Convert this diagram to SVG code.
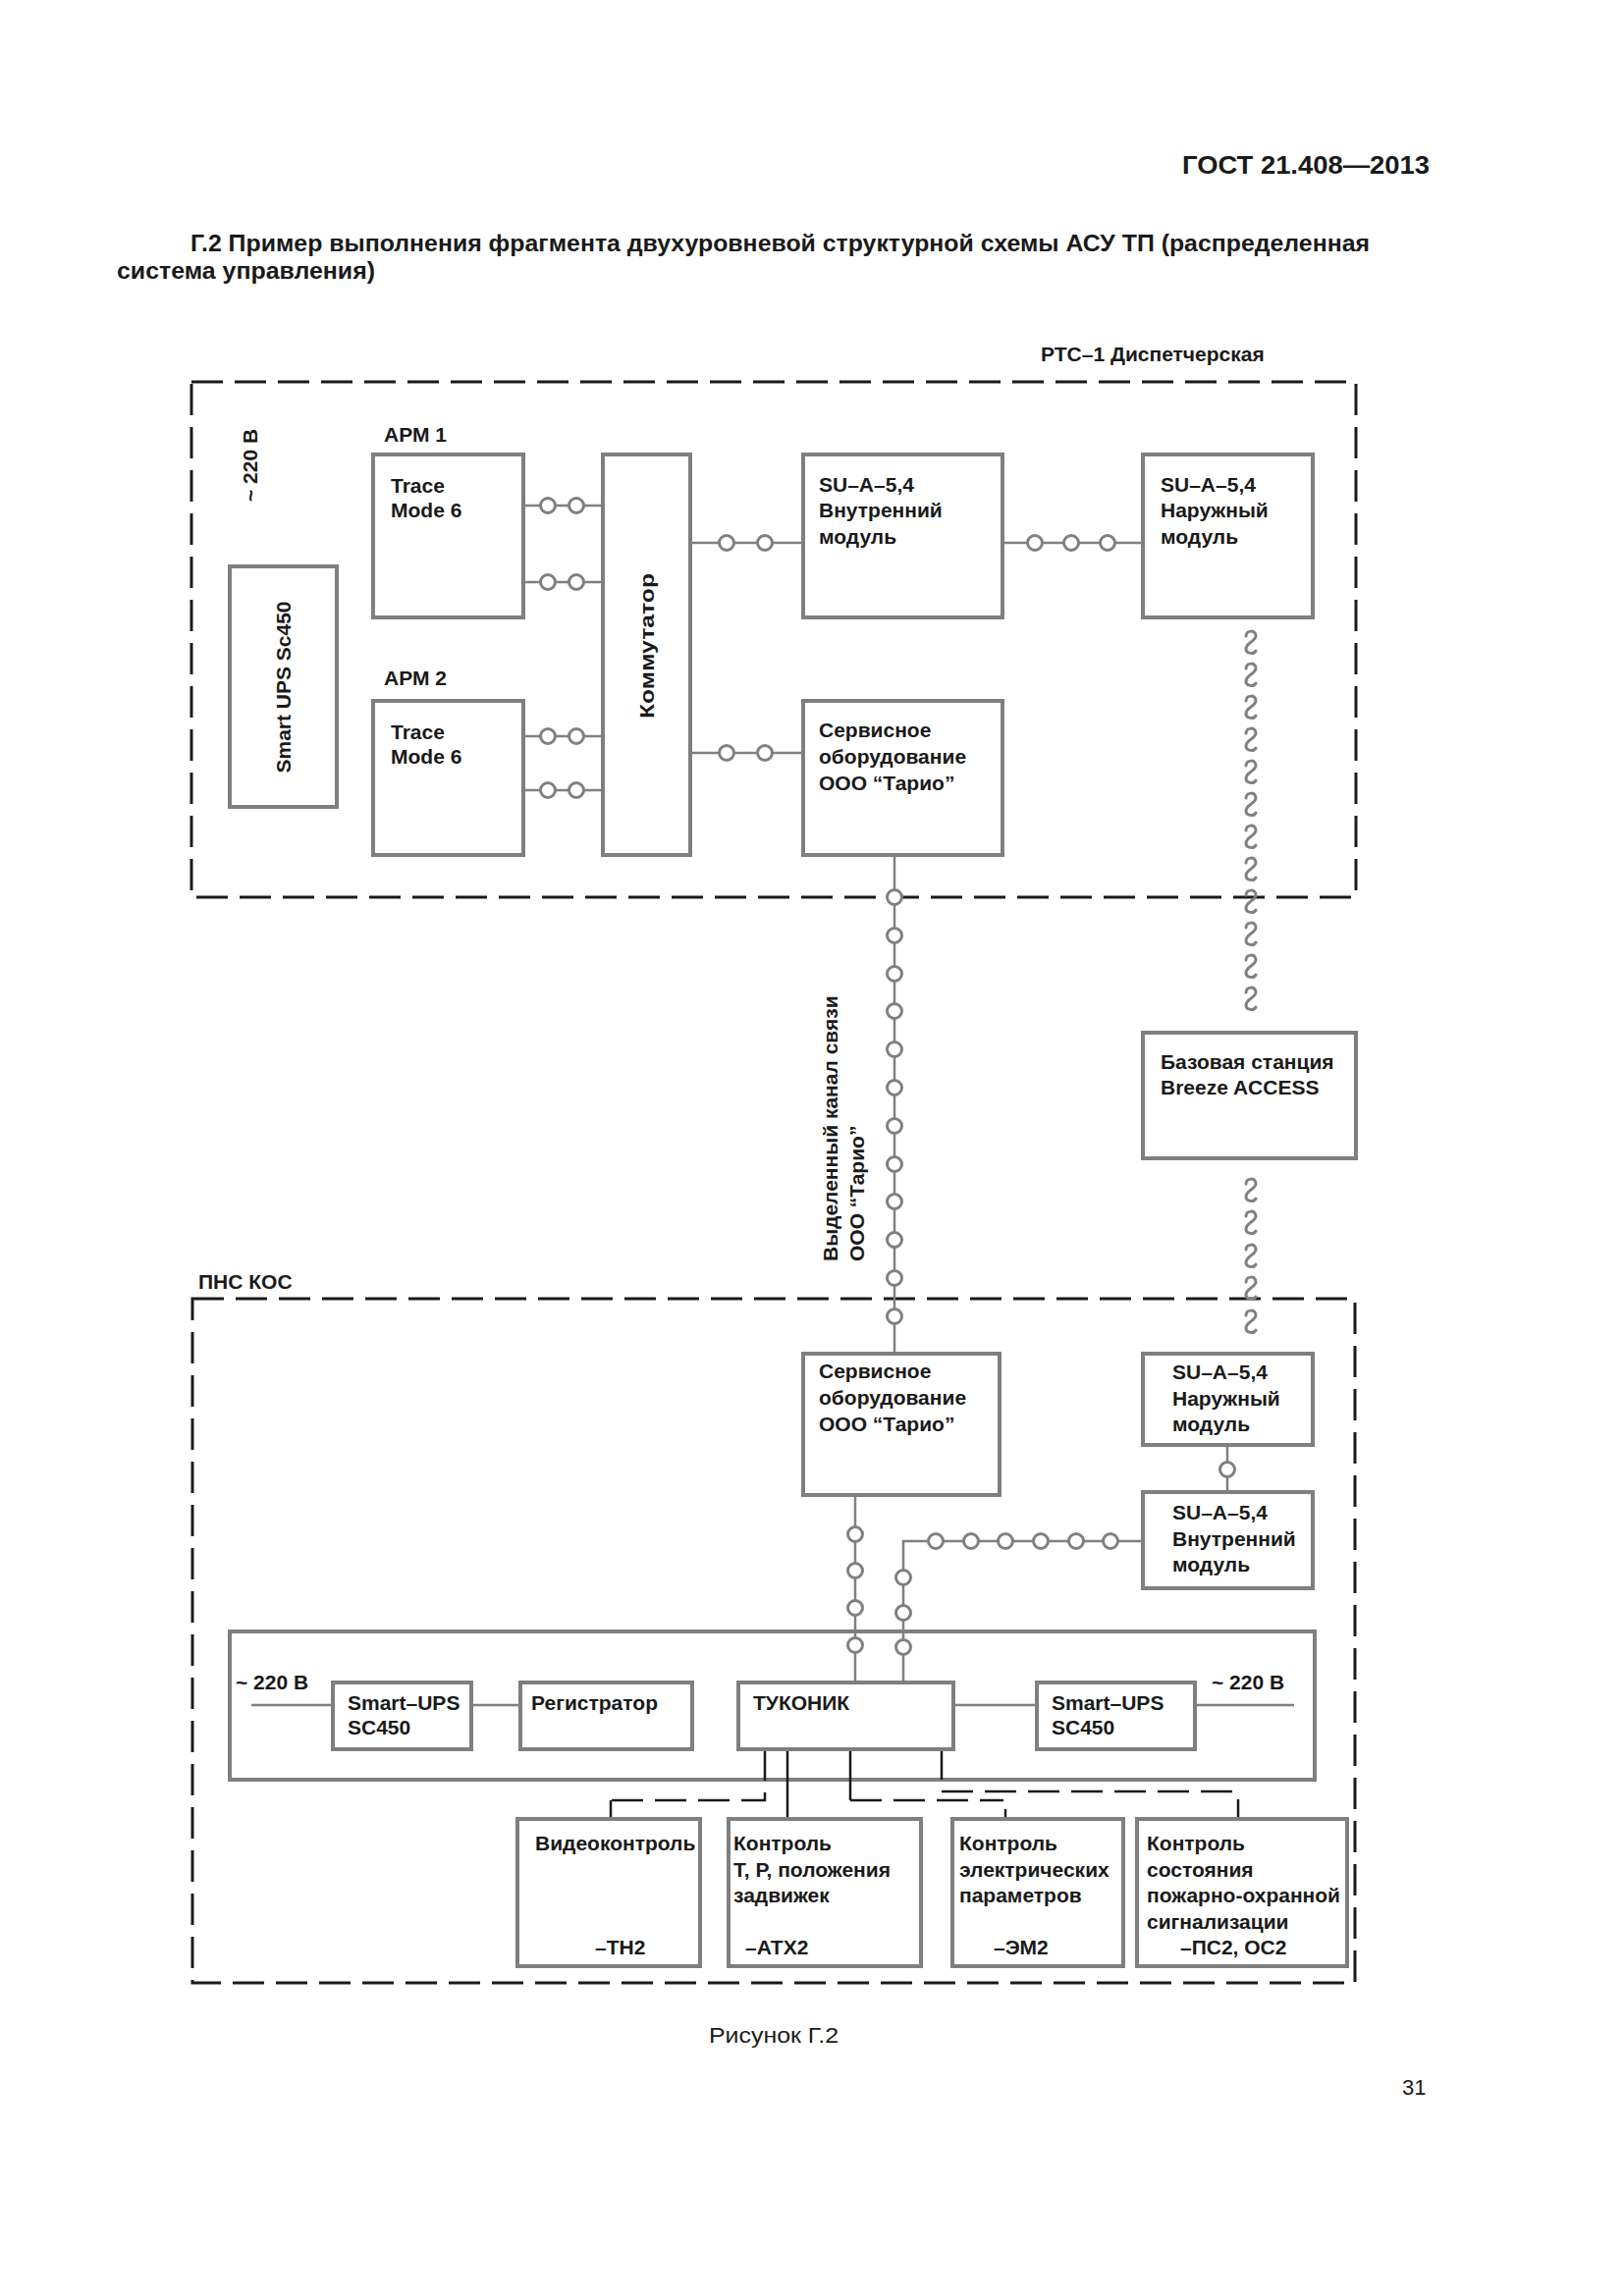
<svg xmlns="http://www.w3.org/2000/svg" width="1654" height="2339" viewBox="0 0 1654 2339">
<style>
text{font-family:"Liberation Sans",Arial,sans-serif;fill:#1a1a1a}
.b{font-weight:bold;font-size:21px}
.r{font-size:22px}
.box{fill:#fff;stroke:#7f7f7f;stroke-width:4}
.frame{fill:none;stroke:#7f7f7f;stroke-width:4}
.ln{fill:none;stroke:#808080;stroke-width:2.5}
.bl{fill:none;stroke:#1a1a1a;stroke-width:2.5}
.dash{fill:none;stroke:#1a1a1a;stroke-width:3;stroke-dasharray:32 12}
.dl{fill:none;stroke:#1a1a1a;stroke-width:2.5;stroke-dasharray:32 12}
.c{fill:#fff;stroke:#808080;stroke-width:3}
.w{fill:none;stroke:#808080;stroke-width:3;stroke-linecap:round}
</style>
<defs>
<circle id="ci" r="7.5" class="c"/>
<path id="wv" class="w" d="M-5,-6 C-5,-12 5,-13 5,-6 C5,-1 -5,1 -5,7 C-5,12 3,13 5,9"/>
</defs>
<rect width="1654" height="2339" fill="#fff"/>

<g id="page-text">
<text x="1204" y="177" font-weight="bold" font-size="25" textLength="252" lengthAdjust="spacingAndGlyphs">ГОСТ 21.408—2013</text>
<text x="194" y="256" font-weight="bold" font-size="23" textLength="1201" lengthAdjust="spacingAndGlyphs">Г.2 Пример выполнения фрагмента двухуровневой структурной схемы АСУ ТП (распределенная</text>
<text x="119" y="284" font-weight="bold" font-size="23" textLength="263" lengthAdjust="spacingAndGlyphs">система управления)</text>
<text x="722" y="2081" class="r" textLength="132" lengthAdjust="spacingAndGlyphs">Рисунок Г.2</text>
<text x="1428" y="2134" class="r">31</text>
</g>

<g id="zones">
<rect x="195" y="389" width="1186" height="525" class="dash"/>
<text x="1060" y="368" class="b">РТС–1 Диспетчерская</text>
<rect x="196" y="1323" width="1184" height="697" class="dash"/>
<text x="202" y="1313" class="b">ПНС КОС</text>
</g>

<g id="n-cabinet">
<rect x="234" y="1662" width="1105" height="151" class="frame"/>
<text x="240" y="1721" class="b">~ 220 В</text>
<text x="1234" y="1721" class="b">~ 220 В</text>
</g>

<g id="connectors">
<path class="ln" d="M533,515H614M533,593H614M533,750H614M533,805H614"/>
<use href="#ci" x="558" y="515"/><use href="#ci" x="587" y="515"/>
<use href="#ci" x="558" y="593"/><use href="#ci" x="587" y="593"/>
<use href="#ci" x="558" y="750"/><use href="#ci" x="587" y="750"/>
<use href="#ci" x="558" y="805"/><use href="#ci" x="587" y="805"/>
<path class="ln" d="M703,553H818M703,767H818M1021,553H1164"/>
<use href="#ci" x="740" y="553"/><use href="#ci" x="779" y="553"/>
<use href="#ci" x="740" y="767"/><use href="#ci" x="779" y="767"/>
<use href="#ci" x="1054" y="553"/><use href="#ci" x="1091" y="553"/><use href="#ci" x="1128" y="553"/>
<path class="ln" d="M911,871V1379"/>
<use href="#ci" x="911" y="914"/><use href="#ci" x="911" y="953"/><use href="#ci" x="911" y="992"/>
<use href="#ci" x="911" y="1030"/><use href="#ci" x="911" y="1069"/><use href="#ci" x="911" y="1108"/>
<use href="#ci" x="911" y="1147"/><use href="#ci" x="911" y="1186"/><use href="#ci" x="911" y="1224"/>
<use href="#ci" x="911" y="1263"/><use href="#ci" x="911" y="1302"/><use href="#ci" x="911" y="1341"/>
<use href="#wv" x="1274" y="654"/><use href="#wv" x="1274" y="687"/><use href="#wv" x="1274" y="720"/>
<use href="#wv" x="1274" y="753"/><use href="#wv" x="1274" y="786"/><use href="#wv" x="1274" y="819"/>
<use href="#wv" x="1274" y="852"/><use href="#wv" x="1274" y="885"/><use href="#wv" x="1274" y="918"/>
<use href="#wv" x="1274" y="951"/><use href="#wv" x="1274" y="984"/><use href="#wv" x="1274" y="1017"/>
<use href="#wv" x="1274" y="1212"/><use href="#wv" x="1274" y="1245"/><use href="#wv" x="1274" y="1279"/>
<use href="#wv" x="1274" y="1312"/><use href="#wv" x="1274" y="1346"/>
<path class="ln" d="M1250,1472V1520"/>
<use href="#ci" x="1250" y="1497"/>
<path class="ln" d="M1164,1570H920V1714"/>
<use href="#ci" x="953" y="1570"/><use href="#ci" x="989" y="1570"/><use href="#ci" x="1024" y="1570"/>
<use href="#ci" x="1060" y="1570"/><use href="#ci" x="1096" y="1570"/><use href="#ci" x="1131" y="1570"/>
<use href="#ci" x="920" y="1607"/><use href="#ci" x="920" y="1643"/><use href="#ci" x="920" y="1678"/>
<path class="ln" d="M871,1523V1714"/>
<use href="#ci" x="871" y="1563"/><use href="#ci" x="871" y="1600"/><use href="#ci" x="871" y="1638"/><use href="#ci" x="871" y="1676"/>
<path class="ln" d="M256,1737H339M480,1737H530M971,1737H1056M1217,1737H1318"/>
<path class="dl" d="M779,1782V1834H622"/>
<path class="bl" d="M622,1834V1853"/>
<path class="bl" d="M802,1782V1853"/>
<path class="bl" d="M866,1782V1834"/>
<path class="dl" d="M866,1834H1022"/>
<path class="bl" d="M1024,1843V1853"/>
<path class="bl" d="M959,1782V1813"/>
<path class="dl" d="M959,1825H1259"/>
<path class="bl" d="M1261,1833V1853"/>
</g>

<g id="n-power-top">
<text transform="translate(262,511) rotate(-90)" class="b">~ 220 В</text>
</g>
<g id="n-ups-top">
<rect x="234" y="577" width="109" height="245" class="box"/>
<text transform="translate(296,700) rotate(-90)" class="b" text-anchor="middle">Smart UPS Sc450</text>
</g>
<g id="n-apm1">
<text x="391" y="450" class="b">АРМ 1</text>
<rect x="380" y="463" width="153" height="166" class="box"/>
<text x="398" y="502" class="b">Trace</text>
<text x="398" y="527" class="b">Mode 6</text>
</g>
<g id="n-apm2">
<text x="391" y="698" class="b">АРМ 2</text>
<rect x="380" y="714" width="153" height="157" class="box"/>
<text x="398" y="753" class="b">Trace</text>
<text x="398" y="778" class="b">Mode 6</text>
</g>
<g id="n-komm">
<rect x="614" y="463" width="89" height="408" class="box"/>
<text transform="translate(666,658) rotate(-90)" class="b" text-anchor="middle" textLength="148" lengthAdjust="spacingAndGlyphs">Коммутатор</text>
</g>
<g id="n-su-in-top">
<rect x="818" y="463" width="203" height="166" class="box"/>
<text x="834" y="501" class="b">SU–A–5,4</text>
<text x="834" y="527" class="b">Внутренний</text>
<text x="834" y="554" class="b">модуль</text>
</g>
<g id="n-su-out-top">
<rect x="1164" y="463" width="173" height="166" class="box"/>
<text x="1182" y="501" class="b">SU–A–5,4</text>
<text x="1182" y="527" class="b">Наружный</text>
<text x="1182" y="554" class="b">модуль</text>
</g>
<g id="n-service-top">
<rect x="818" y="714" width="203" height="157" class="box"/>
<text x="834" y="751" class="b">Сервисное</text>
<text x="834" y="778" class="b">оборудование</text>
<text x="834" y="805" class="b">ООО “Тарио”</text>
</g>
<g id="n-channel-label">
<text transform="translate(853,1285) rotate(-90)" class="b">Выделенный канал связи</text>
<text transform="translate(880,1285) rotate(-90)" class="b">ООО “Тарио”</text>
</g>
<g id="n-base">
<rect x="1164" y="1052" width="217" height="128" class="box"/>
<text x="1182" y="1089" class="b">Базовая станция</text>
<text x="1182" y="1115" class="b">Breeze ACCESS</text>
</g>
<g id="n-service-low">
<rect x="818" y="1379" width="200" height="144" class="box"/>
<text x="834" y="1404" class="b">Сервисное</text>
<text x="834" y="1431" class="b">оборудование</text>
<text x="834" y="1458" class="b">ООО “Тарио”</text>
</g>
<g id="n-su-out-low">
<rect x="1164" y="1379" width="173" height="93" class="box"/>
<text x="1194" y="1405" class="b">SU–A–5,4</text>
<text x="1194" y="1432" class="b">Наружный</text>
<text x="1194" y="1458" class="b">модуль</text>
</g>
<g id="n-su-in-low">
<rect x="1164" y="1520" width="173" height="98" class="box"/>
<text x="1194" y="1548" class="b">SU–A–5,4</text>
<text x="1194" y="1575" class="b">Внутренний</text>
<text x="1194" y="1601" class="b">модуль</text>
</g>
<g id="n-ups-l">
<rect x="339" y="1714" width="141" height="68" class="box"/>
<text x="354" y="1742" class="b">Smart–UPS</text>
<text x="354" y="1767" class="b">SC450</text>
</g>
<g id="n-reg">
<rect x="530" y="1714" width="175" height="68" class="box"/>
<text x="541" y="1742" class="b">Регистратор</text>
</g>
<g id="n-tukonik">
<rect x="752" y="1714" width="219" height="68" class="box"/>
<text x="767" y="1742" class="b">ТУКОНИК</text>
</g>
<g id="n-ups-r">
<rect x="1056" y="1714" width="161" height="68" class="box"/>
<text x="1071" y="1742" class="b">Smart–UPS</text>
<text x="1071" y="1767" class="b">SC450</text>
</g>
<g id="n-video">
<rect x="527" y="1853" width="186" height="150" class="box"/>
<text x="545" y="1885" class="b">Видеоконтроль</text>
<text x="606" y="1991" class="b">–ТН2</text>
</g>
<g id="n-tp">
<rect x="742" y="1853" width="196" height="150" class="box"/>
<text x="747" y="1885" class="b">Контроль</text>
<text x="747" y="1912" class="b">Т, Р, положения</text>
<text x="747" y="1938" class="b">задвижек</text>
<text x="759" y="1991" class="b">–АТХ2</text>
</g>
<g id="n-elec">
<rect x="970" y="1853" width="174" height="150" class="box"/>
<text x="977" y="1885" class="b">Контроль</text>
<text x="977" y="1912" class="b">электрических</text>
<text x="977" y="1938" class="b">параметров</text>
<text x="1012" y="1991" class="b">–ЭМ2</text>
</g>
<g id="n-fire">
<rect x="1158" y="1853" width="214" height="150" class="box"/>
<text x="1168" y="1885" class="b">Контроль</text>
<text x="1168" y="1912" class="b">состояния</text>
<text x="1168" y="1938" class="b">пожарно-охранной</text>
<text x="1168" y="1965" class="b">сигнализации</text>
<text x="1202" y="1991" class="b">–ПС2, ОС2</text>
</g>
</svg>
